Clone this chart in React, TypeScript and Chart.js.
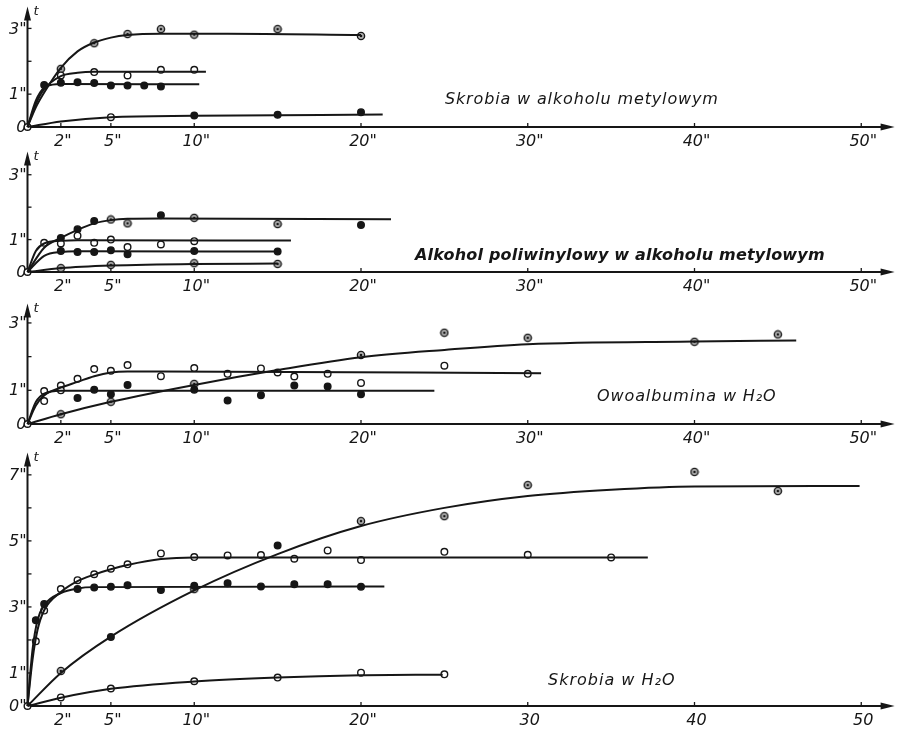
import React, { useEffect, useRef } from 'react';
import { Chart, registerables } from 'chart.js';
Chart.register(...registerables);

type P = [number, number];

// ---------- shared axis values ----------
const X_MAX = 52;
const xTickValues = [2, 5, 10, 20, 30, 40, 50];
const xTickLabelsSec = ['2"', '5"', '10"', '20"', '30"', '40"', '50"'];
const xTickLabelsPlain = ['2"', '5"', '10"', '20"', '30', '40', '50'];

// ---------- Panel 1: Skrobia w alkoholu metylowym ----------
const p1Title = 'Skrobia w alkoholu metylowym';
const p1YMax = 3.67;
const p1YTicks = [0, 1, 2, 3];
const p1YLabels = ['0', '1"', '', '3"'];
const p1CurveTop: P[] = [[0, 0], [0.5, 0.6], [1, 1.05], [2, 1.8], [3, 2.3], [4, 2.57], [5, 2.72], [6, 2.8], [8, 2.84], [12, 2.84], [20, 2.8]];
const p1CurveOpen: P[] = [[0, 0], [0.5, 0.7], [1, 1.15], [2, 1.55], [3, 1.65], [4, 1.68], [10.7, 1.68]];
const p1CurveFilled: P[] = [[0, 0], [0.5, 0.8], [1, 1.2], [1.5, 1.29], [2, 1.31], [10.3, 1.3]];
const p1CurveBottom: P[] = [[0, 0], [2, 0.17], [5, 0.3], [10, 0.34], [21.3, 0.38]];
const p1Dotted: P[] = [[2, 1.77], [4, 2.55], [6, 2.83], [8, 2.98], [10, 2.81], [15, 2.98], [20, 2.77]];
const p1Open: P[] = [[0, 0], [2, 1.57], [4, 1.67], [6, 1.57], [8, 1.74], [10, 1.74], [5, 0.3]];
const p1Filled: P[] = [[1, 1.28], [2, 1.35], [3, 1.36], [4, 1.34], [5, 1.26], [6, 1.26], [7, 1.26], [8, 1.23], [10, 0.35], [15, 0.37], [20, 0.45]];

// ---------- Panel 2: Alkohol poliwinylowy ----------
const p2Title = 'Alkohol poliwinylowy w alkoholu metylowym';
const p2YMax = 3.72;
const p2YTicks = [0, 1, 2, 3];
const p2YLabels = ['0', '1"', '', '3"'];
const p2CurveTop: P[] = [[0, 0], [1, 0.75], [2, 1.05], [3, 1.3], [4, 1.5], [5, 1.6], [6, 1.64], [8, 1.65], [21.8, 1.63]];
const p2CurveOpen: P[] = [[0, 0], [0.5, 0.65], [1, 0.88], [2, 0.96], [3, 0.98], [15.8, 0.97]];
const p2CurveFilled: P[] = [[0, 0], [1, 0.5], [2, 0.62], [3, 0.64], [15, 0.63]];
const p2CurveBottom: P[] = [[0, 0], [2, 0.12], [5, 0.2], [10, 0.25], [15, 0.26]];
const p2Dotted: P[] = [[5, 1.62], [6, 1.5], [10, 1.67], [15, 1.48], [2, 0.12], [5, 0.22], [10, 0.27], [15, 0.25]];
const p2Filled: P[] = [[2, 1.05], [3, 1.32], [4, 1.57], [8, 1.75], [20, 1.45], [2, 0.65], [3, 0.62], [4, 0.62], [5, 0.67], [6, 0.55], [10, 0.65], [15, 0.63]];
const p2Open: P[] = [[0, 0], [1, 0.9], [2, 0.88], [3, 1.12], [4, 0.9], [5, 1.0], [6, 0.77], [8, 0.85], [10, 0.95]];

// ---------- Panel 3: Owoalbumina w H2O ----------
const p3Title = 'Owoalbumina w H₂O';
const p3YMax = 3.58;
const p3YTicks = [0, 1, 2, 3];
const p3YLabels = ['0', '1"', '', '3"'];
const p3CurveRise: P[] = [[0, 0], [2, 0.29], [5, 0.66], [10, 1.16], [15, 1.6], [20, 1.98], [25, 2.2], [30, 2.37], [40, 2.45], [46.1, 2.48]];
const p3CurveOpen: P[] = [[0, 0], [0.5, 0.55], [1, 0.85], [2, 1.08], [3, 1.25], [4, 1.42], [5, 1.53], [6, 1.56], [8, 1.56], [30.8, 1.51]];
const p3CurveFilled: P[] = [[0, 0], [0.5, 0.65], [1, 0.9], [2, 0.99], [24.4, 0.99]];
const p3Dotted: P[] = [[2, 0.29], [5, 0.66], [10, 1.19], [20, 2.05], [25, 2.71], [30, 2.56], [40, 2.44], [45, 2.66]];
const p3Open: P[] = [[0, 0], [1, 0.98], [1, 0.68], [2, 1.14], [2, 1.0], [3, 1.34], [4, 1.63], [5, 1.58], [6, 1.75], [8, 1.42], [10, 1.66], [12, 1.49], [14, 1.65], [15, 1.53], [16, 1.41], [18, 1.49], [20, 1.22], [25, 1.73], [30, 1.49]];
const p3Filled: P[] = [[3, 0.77], [4, 1.02], [5, 0.88], [6, 1.16], [10, 1.02], [12, 0.7], [14, 0.85], [16, 1.14], [18, 1.11], [20, 0.88]];

// ---------- Panel 4: Skrobia w H2O ----------
const p4Title = 'Skrobia w H₂O';
const p4YMax = 7.68;
const p4YTicks = [0, 1, 2, 3, 4, 5, 6, 7];
const p4YLabels = ['0"', '1"', '', '3"', '', '5"', '', '7"'];
const p4CurveRise: P[] = [[0, 0], [2, 1.0], [5, 2.1], [10, 3.5], [15, 4.6], [20, 5.45], [25, 6.0], [30, 6.36], [35, 6.55], [40, 6.65], [49.9, 6.66]];
const p4CurveOpen: P[] = [[0, 0], [0.3, 1.4], [0.6, 2.3], [1, 2.9], [2, 3.45], [3, 3.78], [4, 3.98], [5, 4.14], [6, 4.27], [8, 4.45], [10, 4.5], [37.2, 4.5]];
const p4CurveFilled: P[] = [[0, 0], [0.3, 1.7], [0.6, 2.6], [1, 3.05], [2, 3.42], [3, 3.56], [4, 3.6], [21.4, 3.62]];
const p4CurveBottom: P[] = [[0, 0], [2, 0.25], [5, 0.52], [10, 0.74], [15, 0.86], [20, 0.93], [24.9, 0.95]];
const p4Dotted: P[] = [[2, 1.06], [10, 3.54], [20, 5.6], [25, 5.75], [30, 6.69], [40, 7.09], [45, 6.51]];
const p4Filled: P[] = [[5, 2.09], [15, 4.86], [0.5, 2.6], [1, 3.09], [3, 3.54], [4, 3.59], [5, 3.61], [6, 3.66], [8, 3.51], [10, 3.64], [12, 3.72], [14, 3.62], [16, 3.69], [18, 3.69], [20, 3.61]];
const p4Open: P[] = [[0, 0], [0.5, 1.96], [1, 2.89], [2, 3.54], [3, 3.81], [4, 3.99], [5, 4.16], [6, 4.29], [8, 4.62], [10, 4.51], [12, 4.56], [14, 4.57], [16, 4.46], [18, 4.71], [20, 4.42], [25, 4.67], [30, 4.58], [35, 4.5], [2, 0.26], [5, 0.53], [10, 0.75], [15, 0.86], [20, 1.01], [25, 0.96]];

// ---------- layout ----------
interface Panel {
  top: number; height: number; yMax: number;
  yTicks: number[]; yLabels: string[]; xLabels: string[];
  title: string; titleX: number; titleY: number; titleWeight: string; titleSpacing: string;
  curves: P[][]; open: P[]; filled: P[]; dotted: P[];
}

const PAD = { left: 27.5, right: 3, top: 5, bottom: 25 };

const panels: Panel[] = [
  { top: 0, height: 152, yMax: p1YMax, yTicks: p1YTicks, yLabels: p1YLabels, xLabels: xTickLabelsSec,
    title: p1Title, titleX: 445, titleY: 100, titleWeight: 'normal', titleSpacing: '0.85px',
    curves: [p1CurveTop, p1CurveOpen, p1CurveFilled, p1CurveBottom], open: p1Open, filled: p1Filled, dotted: p1Dotted },
  { top: 145, height: 152, yMax: p2YMax, yTicks: p2YTicks, yLabels: p2YLabels, xLabels: xTickLabelsSec,
    title: p2Title, titleX: 415, titleY: 256, titleWeight: 'bold', titleSpacing: '0.2px',
    curves: [p2CurveTop, p2CurveOpen, p2CurveFilled, p2CurveBottom], open: p2Open, filled: p2Filled, dotted: p2Dotted },
  { top: 297, height: 152, yMax: p3YMax, yTicks: p3YTicks, yLabels: p3YLabels, xLabels: xTickLabelsSec,
    title: p3Title, titleX: 597, titleY: 397, titleWeight: 'normal', titleSpacing: '0.9px',
    curves: [p3CurveRise, p3CurveOpen, p3CurveFilled], open: p3Open, filled: p3Filled, dotted: p3Dotted },
  { top: 446, height: 285, yMax: p4YMax, yTicks: p4YTicks, yLabels: p4YLabels, xLabels: xTickLabelsPlain,
    title: p4Title, titleX: 548, titleY: 681, titleWeight: 'normal', titleSpacing: '1px',
    curves: [p4CurveRise, p4CurveOpen, p4CurveFilled, p4CurveBottom], open: p4Open, filled: p4Filled, dotted: p4Dotted },
];

const INK = '#161616';
const FONT = '"DejaVu Sans", "Liberation Sans", sans-serif';

function makeDottedMarker(): HTMLCanvasElement {
  const c = document.createElement('canvas');
  c.width = 10; c.height = 10;
  const g = c.getContext('2d')!;
  g.beginPath(); g.arc(5, 5, 3.6, 0, Math.PI * 2);
  g.fillStyle = '#b4b4b4'; g.fill();
  g.lineWidth = 1.4; g.strokeStyle = INK; g.stroke();
  g.beginPath(); g.arc(5, 5, 1.3, 0, Math.PI * 2);
  g.fillStyle = INK; g.fill();
  return c;
}

const toXY = (pts: P[]) => pts.map(([x, y]) => ({ x, y }));

function axesPlugin(pn: Panel) {
  return {
    id: 'handAxes',
    beforeDatasetsDraw(chart: any) {
      const { ctx, chartArea: a, scales } = chart;
      const xs = scales.x, ys = scales.y;
      const x0 = xs.getPixelForValue(0);
      const y0 = ys.getPixelForValue(0);
      ctx.save();
      ctx.strokeStyle = INK; ctx.fillStyle = INK;
      ctx.lineWidth = 2;
      // x axis + arrow
      ctx.beginPath(); ctx.moveTo(x0, y0); ctx.lineTo(a.right - 8, y0); ctx.stroke();
      ctx.beginPath(); ctx.moveTo(a.right, y0); ctx.lineTo(a.right - 14, y0 - 3.5); ctx.lineTo(a.right - 14, y0 + 3.5); ctx.closePath(); ctx.fill();
      // y axis + arrow
      ctx.beginPath(); ctx.moveTo(x0, y0); ctx.lineTo(x0, a.top + 8); ctx.stroke();
      ctx.beginPath(); ctx.moveTo(x0, a.top); ctx.lineTo(x0 - 3.5, a.top + 14); ctx.lineTo(x0 + 3.5, a.top + 14); ctx.closePath(); ctx.fill();
      // x ticks and labels
      ctx.lineWidth = 1.3;
      ctx.font = `italic 16px ${FONT}`;
      ctx.textAlign = 'center'; ctx.textBaseline = 'middle';
      xTickValues.forEach((v, i) => {
        const px = xs.getPixelForValue(v);
        ctx.beginPath(); ctx.moveTo(px, y0 - 4); ctx.lineTo(px, y0); ctx.stroke();
        ctx.fillText(pn.xLabels[i], px + 2, y0 + 15);
      });
      // y ticks and labels
      ctx.textAlign = 'right';
      pn.yTicks.forEach((v, i) => {
        const py = ys.getPixelForValue(v);
        if (v > 0) { ctx.beginPath(); ctx.moveTo(x0, py); ctx.lineTo(x0 + 4, py); ctx.stroke(); }
        if (pn.yLabels[i]) ctx.fillText(pn.yLabels[i], x0 - 1, py + 1);
      });
      // axis symbol t
      ctx.textAlign = 'left';
      ctx.font = `italic 13px ${FONT}`;
      ctx.fillText('t', x0 + 6, a.top + 5);
      // panel title
      ctx.font = `italic ${pn.titleWeight} 16px ${FONT}`;
      (ctx as any).letterSpacing = pn.titleSpacing;
      ctx.fillText(pn.title, pn.titleX, pn.titleY - pn.top);
      (ctx as any).letterSpacing = '0px';
      ctx.restore();
    },
  };
}

function PanelChart({ pn }: { pn: Panel }) {
  const ref = useRef<HTMLCanvasElement>(null);
  useEffect(() => {
    if (!ref.current) return;
    const dotted = makeDottedMarker();
    const marker = { showLine: false, pointRadius: 3.3, pointBorderWidth: 1.4, pointBorderColor: INK, clip: false as any };
    const chart = new Chart(ref.current, {
      type: 'scatter',
      data: {
        datasets: [
          ...pn.curves.map((c) => ({
            data: toXY(c), showLine: true, borderColor: INK, borderWidth: 2,
            pointRadius: 0, cubicInterpolationMode: 'monotone' as const, fill: false, clip: false as any,
          })),
          { ...marker, data: toXY(pn.open), pointBackgroundColor: '#ffffff' },
          { ...marker, data: toXY(pn.filled), pointBackgroundColor: INK },
          { ...marker, data: toXY(pn.dotted), pointStyle: dotted as any, pointRadius: 5 },
        ],
      },
      options: {
        animation: false, responsive: false, maintainAspectRatio: false, events: [],
        layout: { padding: PAD },
        scales: {
          x: { type: 'linear', min: 0, max: X_MAX, display: false },
          y: { type: 'linear', min: 0, max: pn.yMax, display: false },
        },
        plugins: { legend: { display: false }, tooltip: { enabled: false } },
      },
      plugins: [axesPlugin(pn)],
    });
    return () => chart.destroy();
  }, [pn]);
  return (
    <canvas ref={ref} width={901} height={pn.height}
      style={{ position: 'absolute', left: 0, top: pn.top, width: 901, height: pn.height }} />
  );
}

export default function App() {
  return (
    <div style={{ position: 'fixed', left: 0, top: 0, width: 901, height: 734, background: '#fff', overflow: 'hidden' }}>
      {panels.map((pn, i) => <PanelChart key={i} pn={pn} />)}
    </div>
  );
}
